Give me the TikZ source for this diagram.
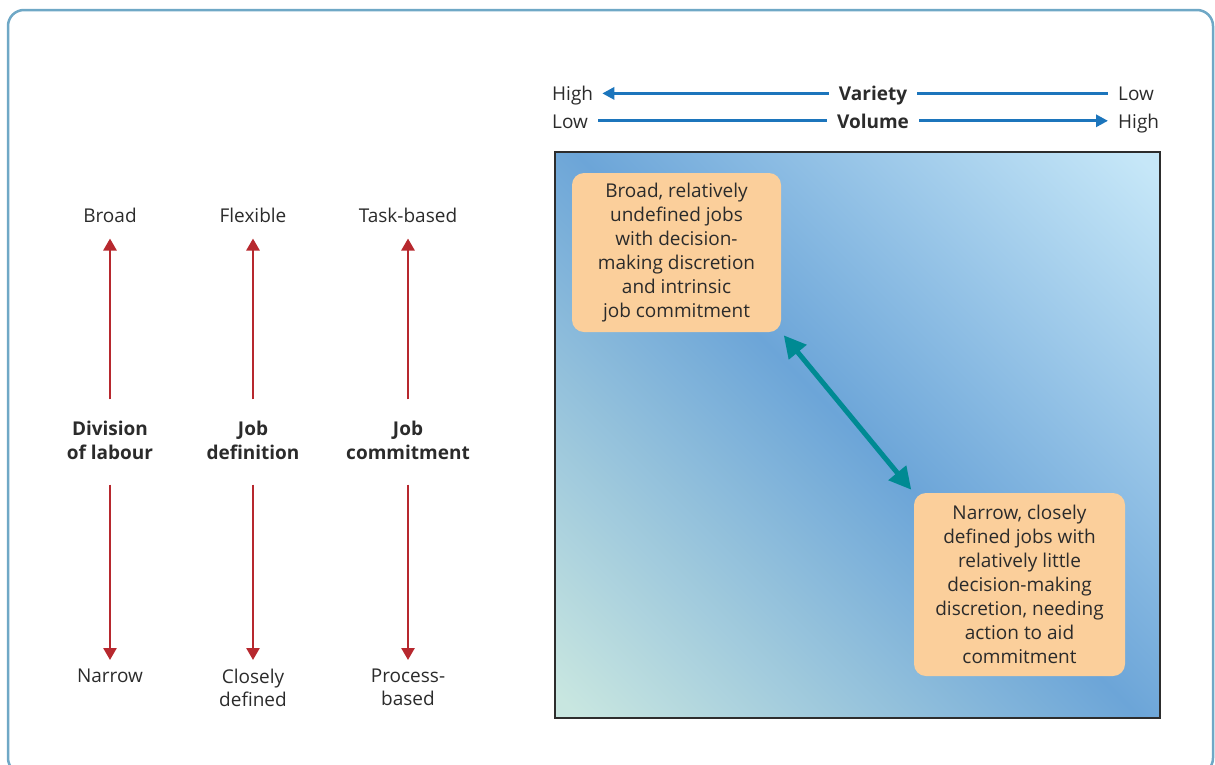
\documentclass[tikz,border=0pt]{standalone}
\usepackage{fontspec}
\setmainfont{Open Sans}
\usetikzlibrary{arrows.meta}
\definecolor{framecol}{HTML}{6FA8C6}
\definecolor{txt}{HTML}{2B2B2B}
\definecolor{redarr}{HTML}{B7282E}
\definecolor{bluearr}{HTML}{1C75BC}
\definecolor{tealarr}{HTML}{008A93}
\definecolor{peach}{HTML}{FBCF9B}
\definecolor{panelline}{HTML}{2D2D2D}
\definecolor{gradlight}{HTML}{C6E7F8}
\definecolor{gradmid}{HTML}{6CA5D8}
\definecolor{gradpale}{HTML}{C8E6E0}
% pale corner -> blue diagonal -> light corner
\pgfdeclareverticalshading{panelshade}{100bp}{%
  color(0bp)=(gradpale); color(16bp)=(gradpale); color(50bp)=(gradmid);
  color(84bp)=(gradlight); color(100bp)=(gradlight)}
\begin{document}
\begin{tikzpicture}[x=1pt,y=-1pt,
  every node/.style={text=txt,font=\fontsize{19}{23}\selectfont},
  lbl/.style={inner sep=0pt,align=center},
  boldlbl/.style={lbl,font=\fontsize{19}{23.3}\selectfont\bfseries},
  rowlbl/.style={inner sep=0pt,text height=16,text depth=1},
  redup/.style={draw=redarr,line width=2.6,-{Triangle[length=12,width=13]}},
  bluearrow/.style={draw=bluearr,line width=3},
  bluehead/.style={bluearrow,-{Triangle[length=12,width=12]}},
  infobox/.style={fill=peach,rounded corners=12,inner sep=0pt,align=center,
    font=\fontsize{19}{24}\selectfont},
  linkarrow/.style={draw=tealarr,line width=5,{Triangle[length=22,width=22]}-{Triangle[length=22,width=22]}}
]
\useasboundingbox (0,0) rectangle (1215,764);
\clip (0,0) rectangle (1215,764);

% outer frame
\draw[framecol,line width=2.5,rounded corners=16] (8,10) rectangle (1213,774);

% left-hand dimensions: top label, bold title, bottom label
\foreach \x/\name/\top/\mid/\bot in {
  110/a/Broad/Division\\of labour/Narrow,
  253/b/Flexible/Job\\definition/Closely\\defined,
  408/c/Task-based/Job\\commitment/Process-\\based}{
  \node[lbl,text height=14.5,text depth=4,anchor=base] (\name top) at (\x,222.3) {\top};
  \node[boldlbl] (\name mid) at (\x,440.5) {\mid};
  \node[lbl,anchor=north] (\name bot) at (\x,668.5) {\bot};
  \draw[redup,shorten <=22,shorten >=12] (\name mid.north) -- (\name top.south);
  \draw[redup,shorten <=25,shorten >=8.5] (\name mid.south) -- (\name bot.north);
}

% variety / volume scales
\node[rowlbl,anchor=west] (hi1) at (552,93.4) {High};
\node[rowlbl,font=\fontsize{19}{23}\selectfont\bfseries] (var) at (873,93.4) {Variety};
\node[rowlbl,anchor=west] (lo1) at (1118,93.4) {Low};
\node[rowlbl,anchor=west] (lo2) at (552,120.8) {Low};
\node[rowlbl,font=\fontsize{19}{23}\selectfont\bfseries] (vol) at (873,120.8) {Volume};
\node[rowlbl,anchor=west] (hi2) at (1118,120.8) {High};
\draw[bluehead,shorten <=10,shorten >=9] (var.west) -- (hi1.east);
\draw[bluearrow,shorten <=10,shorten >=10] (var.east) -- (lo1.west);
\draw[bluearrow,shorten <=10,shorten >=10] (lo2.east) -- (vol.west);
\draw[bluehead,shorten <=10,shorten >=10] (vol.east) -- (hi2.west);

% shaded panel
\shade[shading=panelshade,shading angle=-45] (555,152) rectangle (1160,718);
\node[draw=panelline,line width=2.5,minimum width=605,minimum height=566,inner sep=0pt] (panel) at (857.5,435) {};

\node[infobox,minimum width=209,minimum height=159] (box1) at (676.5,252.5)
  {Broad, relatively\\undefined jobs\\with decision-\\making discretion\\and intrinsic\\job commitment};
\node[infobox,minimum width=211,minimum height=183] (box2) at (1019.5,584.5)
  {Narrow, closely\\defined jobs with\\relatively little\\decision-making\\discretion, needing\\action to aid\\commitment};
\draw[linkarrow,shorten <=4,shorten >=4] (box1.south east) -- (box2.north west);
\end{tikzpicture}
\end{document}
